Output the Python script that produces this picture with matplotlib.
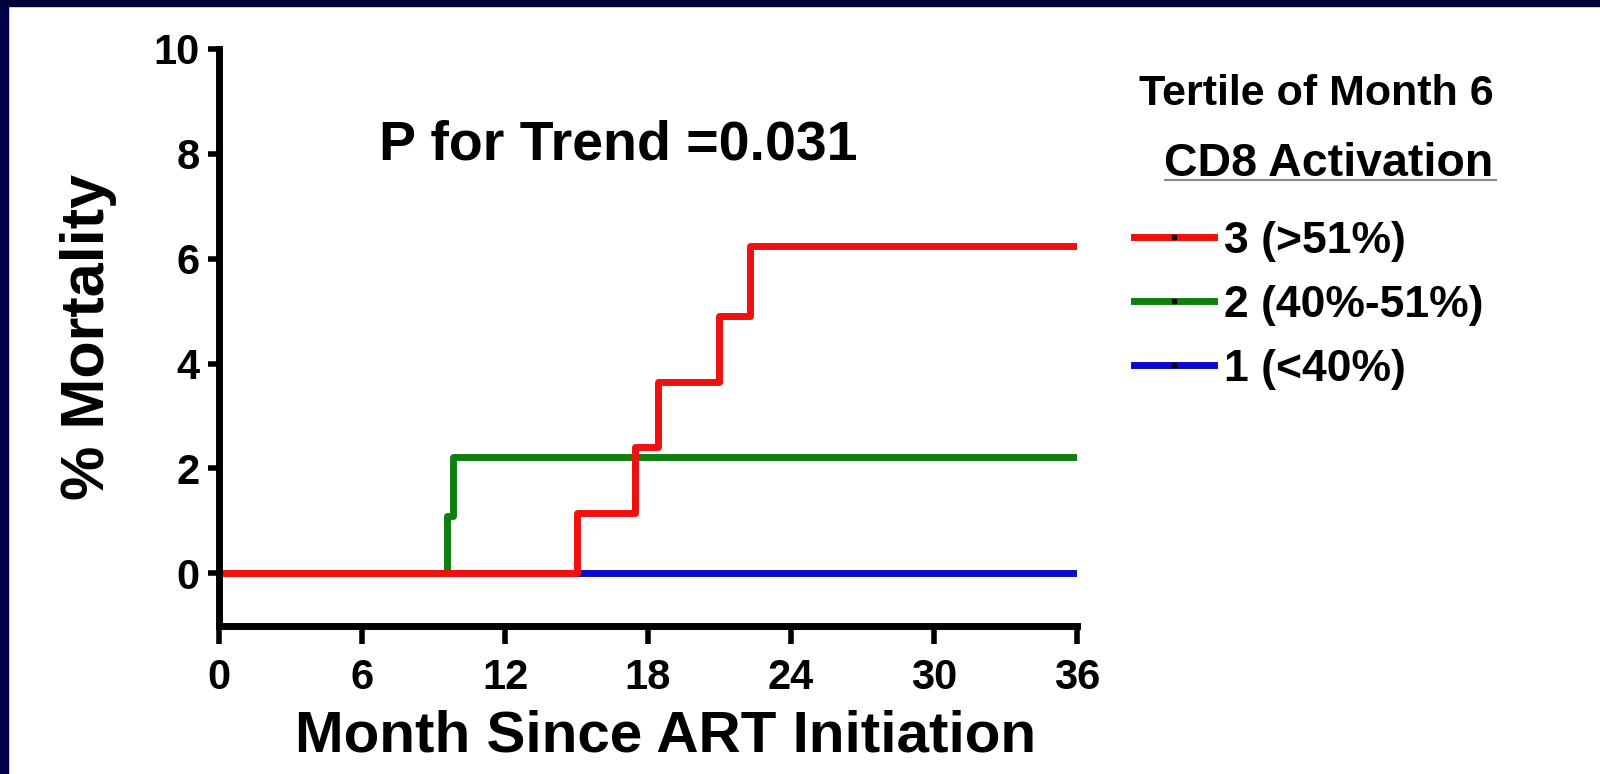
import matplotlib
matplotlib.use("Agg")
import matplotlib.pyplot as plt
from matplotlib.lines import Line2D
from matplotlib.patches import Rectangle

plt.rcParams['font.family'] = ['Liberation Sans', 'DejaVu Sans']
plt.rcParams['font.weight'] = 'bold'

# step curves (months, % mortality)
t_high = [0, 15.0, 17.45, 18.4, 21.0, 22.3, 36]
m_high = [0, 1.15, 2.4, 3.65, 4.9, 6.25, 6.25]
t_mid = [0, 9.55, 9.8, 36]
m_mid = [0, 1.1, 2.22, 2.22]
t_low = [0, 36]
m_low = [0, 0]

labels = ["3 (>51%)", "2 (40%-51%)", "1 (<40%)"]
colors = ["#f01010", "#0f800f", "#0a0acc"]
xticks = [0, 6, 12, 18, 24, 30, 36]
yticks = [0, 2, 4, 6, 8, 10]
p_text = "P for Trend =0.031"

fig = plt.figure(figsize=(16, 7.74), dpi=100)
ax = fig.add_axes([0.1369, 0.1917, 0.5362, 0.745])

ax.step(t_low, m_low, where='post', color=colors[2], lw=5, solid_capstyle='butt')
ax.step(t_mid, m_mid, where='post', color=colors[1], lw=5, solid_capstyle='butt')
ax.step(t_high, m_high, where='post', color=colors[0], lw=5, solid_capstyle='butt')

ax.set_xlim(0, 36)
ax.set_ylim(-1, 10)
ax.set_xticks(xticks)
ax.set_yticks(yticks)
for s in ['top', 'right']:
    ax.spines[s].set_visible(False)
ax.spines['left'].set_linewidth(5)
ax.spines['bottom'].set_linewidth(5)
ax.spines['left'].set_bounds(-1, 10)
ax.spines['bottom'].set_bounds(0, 36)
ax.tick_params(axis='y', length=8, width=4, labelsize=30, pad=6)
ax.tick_params(axis='x', length=13, width=4, labelsize=30, pad=10)
for lab in ax.get_xticklabels() + ax.get_yticklabels():
    lab.set_fontweight('bold')

ax.set_xlabel("Month Since ART Initiation", fontsize=42, fontweight='bold', labelpad=8)
ax.xaxis.set_label_coords(0.52, -0.145)
ax.set_ylabel("% Mortality", fontsize=44, fontweight='bold', labelpad=26)

ax.text(6.7, 7.9, p_text, fontsize=40, fontweight='bold', va='baseline', ha='left')

# legend
handles = [Line2D([], [], color=c, lw=5, marker='s', markersize=3,
                  markerfacecolor='k', markeredgecolor='k') for c in colors]
leg = fig.legend(handles, labels, loc='upper left', bbox_to_anchor=(0.709, 0.715),
                 frameon=False, fontsize=32, handlelength=1.8, handletextpad=0.22,
                 labelspacing=0.52, borderpad=0, borderaxespad=0, numpoints=1)
for txt in leg.get_texts():
    txt.set_fontweight('bold')

fig.text(0.823, 0.864, "Tertile of Month 6", fontsize=31, fontweight='bold',
         ha='center', va='baseline')
fig.text(0.8305, 0.773, "CD8 Activation", fontsize=33.5, fontweight='bold',
         ha='center', va='baseline')
fig.add_artist(Line2D([0.728, 0.935], [0.768, 0.768], color='#8a8a8a', lw=1.5))

# navy frame strips
fig.add_artist(Rectangle((0, 0), 0.005, 1, transform=fig.transFigure, color='#000048', zorder=10))
fig.add_artist(Rectangle((0, 1 - 0.0078), 1, 0.0078, transform=fig.transFigure, color='#000038', zorder=10))

fig.savefig("out.png", dpi=100)
